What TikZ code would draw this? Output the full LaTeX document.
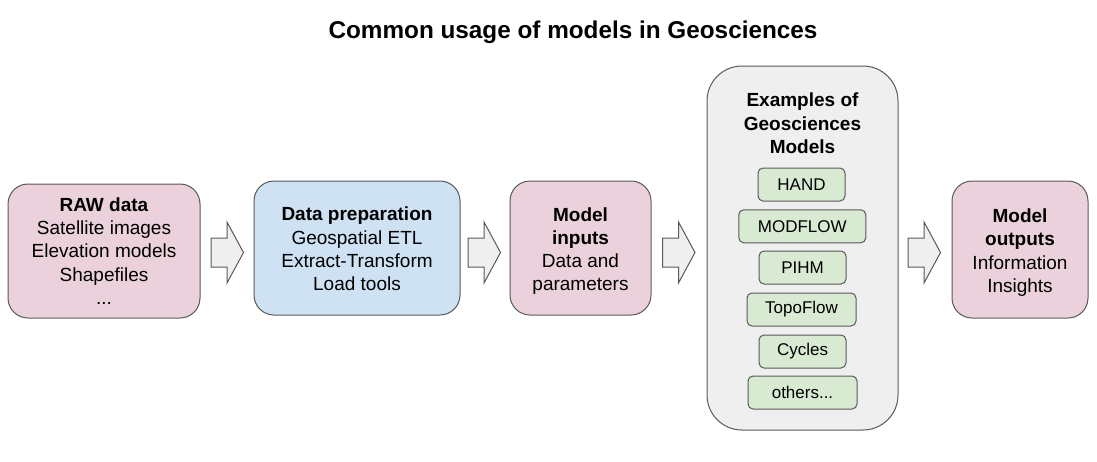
\documentclass[tikz,border=0pt]{standalone}
\usepackage{fontspec}
\setmainfont{Liberation Sans}
\definecolor{pinkf}{HTML}{EAD1DC}
\definecolor{bluef}{HTML}{CFE2F3}
\definecolor{grayf}{HTML}{EFEFEF}
\definecolor{greenf}{HTML}{D9EAD3}
\definecolor{bord}{HTML}{595959}
\newcommand\blockarr[1]{%
  \draw[arrowshape] (#1,238) -- (#1+16,238) -- (#1+16,222) -- (#1+32.5,252.5) -- (#1+16,283) -- (#1+16,267) -- (#1,267) -- cycle;}
\begin{document}
\begin{tikzpicture}[x=1pt,y=-1pt,
  box/.style={draw=bord, line width=1pt, rounded corners=20pt, inner sep=0pt, align=center,
     font=\fontsize{19}{23.3}\selectfont},
  mbox/.style={draw=bord, line width=1pt, rounded corners=5pt, fill=greenf, inner sep=0pt,
     minimum height=33pt, font=\fontsize{17}{20}\selectfont},
  arrowshape/.style={draw=bord, line width=1pt, fill=grayf, line join=miter}]
\useasboundingbox (0,0) rectangle (1097,461);
\node[font=\fontsize{24.3}{28}\selectfont\bfseries] (title) at (573,32.5) {Common usage of models in Geosciences};
\node[box, fill=pinkf, minimum width=192pt, minimum height=134pt] (raw) at (104,251)
  {\textbf{RAW data}\\Satellite images\\Elevation models\\Shapefiles\\...};
\node[box, fill=bluef, minimum width=206pt, minimum height=134pt] (prep) at (357,248)
  {\rule{0pt}{16pt}\textbf{Data preparation}\\Geospatial ETL\\Extract-Transform\\Load tools};
\node[box, fill=pinkf, minimum width=141pt, minimum height=134pt] (inputs) at (580.5,248)
  {\rule{0pt}{20pt}\textbf{Model}\\\textbf{inputs}\\Data and\\parameters};
\node[box, fill=grayf, rounded corners=35pt, minimum width=191pt, minimum height=364pt] (ex) at (802.5,248) {};
\node[align=center, inner sep=0pt, font=\fontsize{19}{23.5}\selectfont\bfseries] (exhdr) at (802.5,123.5)
  {Examples of\\Geosciences\\Models};
\node[mbox, minimum width=87pt] (hand) at (801.5,184.5) {HAND};
\node[mbox, minimum width=127pt] (modflow) at (802.3,226.3) {MODFLOW};
\node[mbox, minimum width=87pt] (pihm) at (802.5,267.5) {PIHM};
\node[mbox, minimum width=109pt] (topo) at (801.5,309.5) {TopoFlow};
\node[mbox, minimum width=87pt] (cycles) at (802.5,351.5) {Cycles};
\node[mbox, minimum width=109pt] (others) at (802.5,392.5) {others...};
\node[box, fill=pinkf, minimum width=136pt, minimum height=137pt] (outputs) at (1020,249.5)
  {\rule{0pt}{20pt}\textbf{Model}\\\textbf{outputs}\\Information\\Insights};
\blockarr{211}
\blockarr{468}
\blockarr{662.5}
\blockarr{908}
\end{tikzpicture}
\end{document}
